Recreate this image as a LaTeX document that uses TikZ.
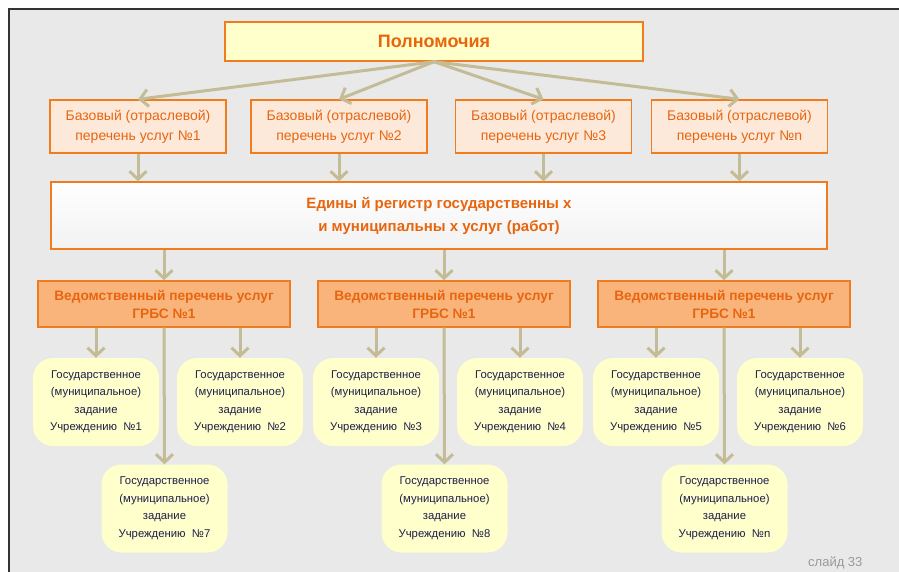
\documentclass[tikz,border=0pt]{standalone}
\usepackage{fontspec}
\setmainfont{Liberation Sans}
\usetikzlibrary{arrows.meta}
\definecolor{orng}{HTML}{F07C1E}
\definecolor{orngtxt}{HTML}{E8650E}
\definecolor{peach}{HTML}{FDE9DA}
\definecolor{orngfill}{HTML}{F9B47C}
\definecolor{lemon}{HTML}{FFFFCC}
\definecolor{khaki}{HTML}{C4BC96}
\definecolor{slidebg}{HTML}{E9E9E9}
\definecolor{leaftxt}{HTML}{1E1E4A}

\begin{document}
\begin{tikzpicture}[x=1pt,y=-1pt,
  box/.style={draw=orng,line width=1.4pt,text=orngtxt,align=center,inner sep=0pt},
  topbox/.style={box,fill=lemon,minimum width=418pt,minimum height=39pt,font=\fontsize{18}{20}\selectfont\bfseries},
  basebox/.style={box,fill=peach,minimum width=176pt,minimum height=53pt,font=\fontsize{14}{20}\selectfont},
  regbox/.style={box,top color=white,bottom color=black!5,minimum width=776pt,minimum height=67pt,font=\fontsize{15}{23}\selectfont\bfseries},
  vedbox/.style={box,fill=orngfill,minimum width=252pt,minimum height=46pt,font=\fontsize{13.7}{18}\selectfont\bfseries},
  leaf/.style={fill=lemon,rounded corners=20pt,minimum width=126pt,minimum height=88pt,inner sep=0pt,align=center,text=leaftxt,font=\fontsize{11.3}{17.5}\selectfont},
  arr/.style={draw=khaki,line width=3pt,-{Straight Barb[length=8pt,width=17pt]}}]
  \useasboundingbox (0,0) rectangle (899,572);
  \clip (0,0) rectangle (899,572);
  \fill[slidebg] (9,9) rectangle (899,572);
  \draw[line width=2pt,black!80] (9,572) -- (9,9) -- (899,9);

  \node[topbox] (polnom) at (434,41.5) {Полномочия};
  \node[regbox] (reestr) at (439,215.5) {Едины й регистр государственны х\\и муниципальны х услуг (работ)};
  \foreach \i/\x/\n in {1/138/1,2/339/2,3/543.5/3,4/739.5/n} {
    \node[basebox] (base\i) at (\x,126.5) {Базовый (отраслевой)\\перечень услуг №\n};
    \draw[arr] (polnom.south) -- (base\i.north);
    \draw[arr] (base\i.south) -- (reestr.north -| base\i.south);
  }
  \foreach \g/\dx/\a/\b/\c in {1/0/1/2/7,2/280/3/4/8,3/560/5/6/n} {
    \node[vedbox] (ved\g) at (164+\dx,304) {Ведомственный перечень услуг\\ГРБС №1};
    \draw[arr] (reestr.south -| ved\g.north) -- (ved\g.north);
    \node[leaf] (lefta\g) at (96+\dx,402) {Государственное\\(муниципальное)\\задание\\Учреждению\ \ №\a};
    \node[leaf] (leftb\g) at (240+\dx,402) {Государственное\\(муниципальное)\\задание\\Учреждению\ \ №\b};
    \node[leaf] (leftc\g) at (164.5+\dx,508.5) {Государственное\\(муниципальное)\\задание\\Учреждению\ \ №\c};
    \draw[arr] (lefta\g.north |- ved\g.south) -- (lefta\g.north);
    \draw[arr] (leftb\g.north |- ved\g.south) -- (leftb\g.north);
    \draw[arr] (ved\g.south) -- (leftc\g.north);
  }
  \node[text=black!40,anchor=base west,inner sep=0pt,font=\fontsize{13}{13}\selectfont] (slide) at (808,566) {слайд 33};
\end{tikzpicture}
\end{document}
